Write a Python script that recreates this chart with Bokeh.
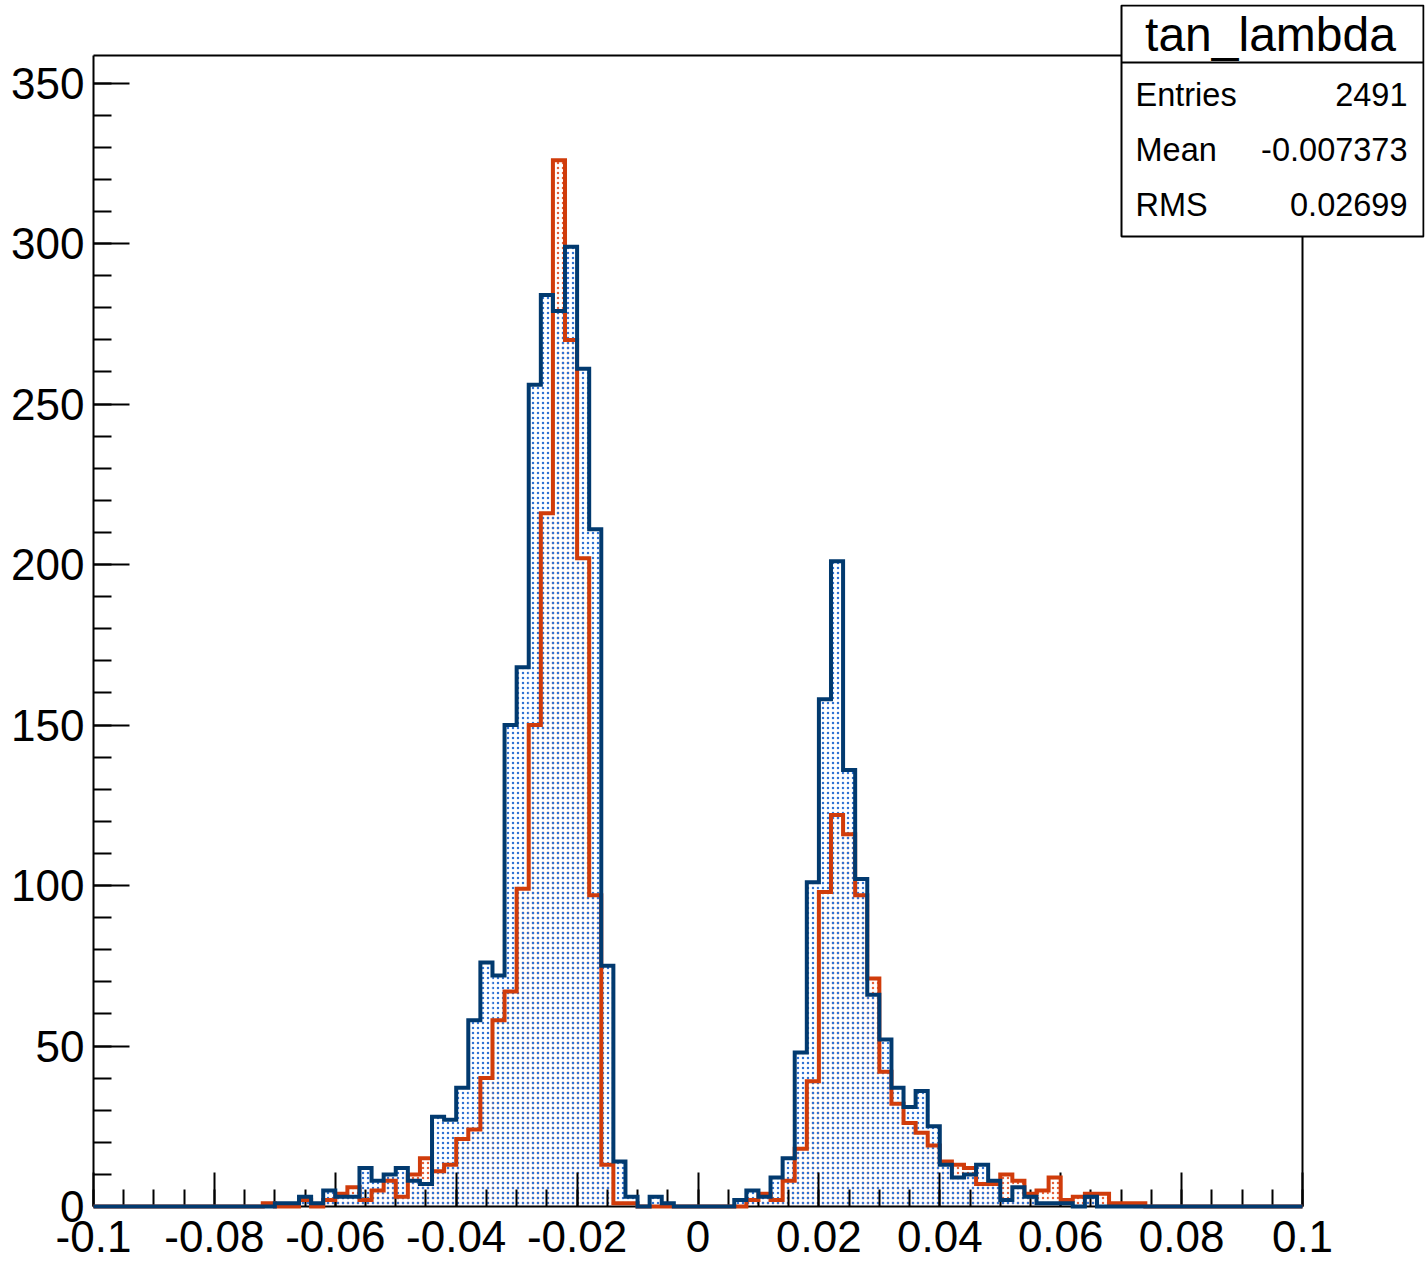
import numpy as np
from bokeh.plotting import figure
from bokeh.models import Range1d, FixedTicker, BoxAnnotation, Label
from bokeh.embed import file_html
from bokeh.resources import INLINE

# ---------------- data ----------------
x_min, x_max, n_bins = -0.1, 0.1, 100

# blue histogram (drawn on top), 100 bins of width 0.002
blue_counts = [0] * 15 + [
    1, 1, 3, 1, 5, 3, 3, 12, 8, 10,          # bins 15-24
    12, 8, 7, 28, 27, 37, 58, 76, 72, 150,   # bins 25-34
    168, 256, 284, 279, 299, 261, 211, 75, 14, 3,  # bins 35-44
    0, 3, 1, 0, 0, 0, 0, 0, 2, 5,            # bins 45-54
    3, 9, 15, 48, 101, 158, 201, 136, 102, 66,  # bins 55-64
    52, 37, 31, 36, 25, 13, 9, 10, 13, 8,    # bins 65-74
    2, 6, 3, 1, 1, 1, 0, 3,                  # bins 75-82
] + [0] * 17

# red histogram (the one with the statistics box)
red_counts = [0] * 14 + [
    1, 0, 0, 2, 0, 2, 4, 6, 2, 5,            # bins 14-23
    8, 3, 10, 15, 11, 13, 21, 24, 40, 58,    # bins 24-33
    67, 99, 150, 216, 326, 270, 202, 97, 13, 1,  # bins 34-43
    1, 0, 0, 0, 0, 0, 0, 0, 0, 0,            # bins 44-53
    2, 4, 2, 8, 18, 39, 98, 122, 116, 97,    # bins 54-63
    71, 42, 32, 26, 23, 19, 14, 13, 12, 7,   # bins 64-73
    7, 10, 8, 4, 5, 9, 2, 3, 4, 4,           # bins 74-83
    1, 1, 1,                                 # bins 84-86
] + [0] * 13

x_ticks = [-0.1, -0.08, -0.06, -0.04, -0.02, 0, 0.02, 0.04, 0.06, 0.08, 0.1]
x_tick_labels = ["-0.1", "-0.08", "-0.06", "-0.04", "-0.02", "0",
                 "0.02", "0.04", "0.06", "0.08", "0.1"]
x_minor_step = 0.005
y_ticks = [0, 50, 100, 150, 200, 250, 300, 350]
y_minor_step = 10
y_max = 358.6

stats_title = "tan_lambda"
stats_names = ["Entries", "Mean", "RMS"]
stats_values = ["2491", "-0.007373", "0.02699"]

# ---------------- style / layout ----------------
BLUE = "#023a6f"
BLUE_DOT = "#2f72d4"
RED = "#d03c0b"
RED_DOT = "#e2603a"
FONT = "Liberation Sans"

W, H = 1425, 1261
# pixel positions of the histogram frame on the canvas
FR_L, FR_R, FR_T, FR_B = 93, 1302, 55, 1206
# the drawing area is extended up/right so the statistics box can sit there
EXT_R, EXT_T = 1424, 4
px_per_x = (FR_R - FR_L) / (x_max - x_min)
px_per_y = (FR_B - FR_T) / y_max
x_end = x_max + (EXT_R - FR_R) / px_per_x
y_end = y_max + (FR_T - EXT_T) / px_per_y

p = figure(width=W, height=H,
           x_range=Range1d(x_min, x_end), y_range=Range1d(0, y_end),
           output_backend="svg", toolbar_location=None,
           min_border_left=FR_L, min_border_right=W - EXT_R,
           min_border_top=EXT_T, min_border_bottom=H - FR_B)
p.background_fill_color = "white"
p.border_fill_color = "white"
p.outline_line_color = None
p.xgrid.visible = False
p.ygrid.visible = False

x_minor = list(np.round(np.arange(x_min, x_max + 1e-9, x_minor_step), 4))
y_minor = list(range(0, int(y_max) + 1, y_minor_step))
p.xaxis.ticker = FixedTicker(ticks=x_ticks, minor_ticks=x_minor)
p.yaxis.ticker = FixedTicker(ticks=y_ticks, minor_ticks=y_minor)
p.xaxis.major_label_overrides = dict(zip(x_ticks, x_tick_labels))
p.xaxis.bounds = (x_min, x_max)
p.yaxis.bounds = (0, y_max)

for ax, maj, mino, standoff in ((p.xaxis, 34, 17, 14), (p.yaxis, 36, 18, 9)):
    ax.major_tick_in = maj
    ax.major_tick_out = 0
    ax.minor_tick_in = mino
    ax.minor_tick_out = 0
    ax.major_tick_line_width = 2
    ax.minor_tick_line_width = 2
    ax.major_tick_line_color = "black"
    ax.minor_tick_line_color = "black"
    ax.axis_line_width = 2
    ax.axis_line_color = "black"
    ax.major_label_text_font = FONT
    ax.major_label_text_font_size = "44px"
    ax.major_label_text_color = "black"
    ax.major_label_standoff = standoff

# frame: top and right edges of the histogram pad
p.segment(x0=[x_min, x_max], y0=[y_max, 0], x1=[x_max, x_max], y1=[y_max, y_max],
          line_color="black", line_width=2, line_cap="square")

# ---------------- histograms ----------------
edges = np.linspace(x_min, x_max, n_bins + 1)

def outline(counts):
    xs = np.repeat(edges, 2)
    ys = np.concatenate([[0], np.repeat(np.asarray(counts, dtype=float), 2), [0]])
    return xs, ys

p.quad(left=edges[:-1], right=edges[1:], bottom=0, top=red_counts,
       fill_color=None, line_color=None,
       hatch_pattern="dot", hatch_color=RED_DOT, hatch_scale=5, hatch_weight=1.0)
p.quad(left=edges[:-1], right=edges[1:], bottom=0, top=blue_counts,
       fill_color=None, line_color=None,
       hatch_pattern="dot", hatch_color=BLUE_DOT, hatch_scale=5, hatch_weight=1.0)

rx, ry = outline(red_counts)
bx, by = outline(blue_counts)
r1 = p.line(rx, ry, line_color=RED, line_width=4.0, line_join="miter")
r2 = p.line(bx, by, line_color=BLUE, line_width=4.0, line_join="miter")
r1.level = "overlay"
r2.level = "overlay"

# ---------------- statistics box ----------------
box_l, box_r, box_t, box_b = 1121, 1423, 5, 236
p.add_layout(BoxAnnotation(left=box_l, right=box_r, top=box_t, bottom=box_b,
                           left_units="canvas", right_units="canvas",
                           top_units="canvas", bottom_units="canvas",
                           fill_color="white", fill_alpha=1.0,
                           line_color="black", line_width=2, line_alpha=1.0))
p.add_layout(BoxAnnotation(left=box_l, right=box_r, top=61, bottom=63,
                           left_units="canvas", right_units="canvas",
                           top_units="canvas", bottom_units="canvas",
                           fill_color="black", fill_alpha=1.0,
                           line_color=None))
p.add_layout(Label(x=(box_l + box_r) / 2 - 2, y=34, x_units="canvas", y_units="canvas",
                   text=stats_title, text_align="center", text_baseline="alphabetic",
                   text_font=FONT, text_font_size="48px", text_color="black"))
for i, (name, val) in enumerate(zip(stats_names, stats_values)):
    yb = 94 + 55 * i
    p.add_layout(Label(x=box_l + 14, y=yb, x_units="canvas", y_units="canvas",
                       text=name, text_align="left", text_baseline="alphabetic",
                       text_font=FONT, text_font_size="32.5px", text_color="black"))
    p.add_layout(Label(x=box_r - 16, y=yb, x_units="canvas", y_units="canvas",
                       text=val, text_align="right", text_baseline="alphabetic",
                       text_font=FONT, text_font_size="32.5px", text_color="black"))

open("out.html", "w").write(file_html(p, INLINE))
